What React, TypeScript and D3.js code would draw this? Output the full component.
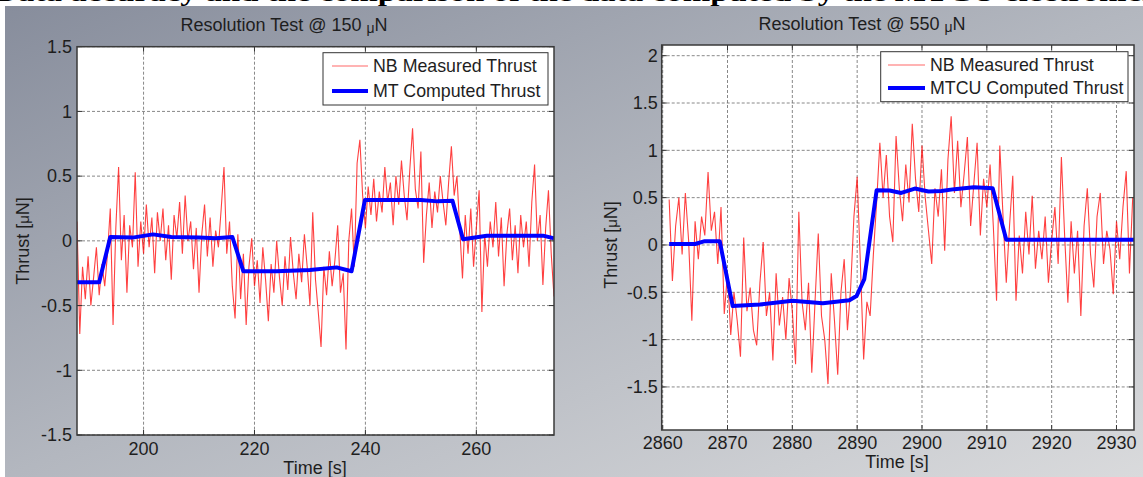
import * as d3 from "d3";

// NB measured thrust, sampled every 0.5 s
const sampleStep = 0.5;
const leftStart = 188;
const leftMeasured = [
  0.15, -0.72, -0.2, -0.45, -0.12, -0.5, -0.28, -0.05, -0.42, -0.18, -0.35,
  -0.1, 0.25, -0.65, 0.1, 0.57, -0.15, 0.2, -0.4, 0.12, -0.05, 0.53, -0.2, 0.15, -0.1, 0.28, -0.05,
  0.18, -0.25, 0.22, 0.0, 0.25, -0.15, 0.12, -0.3, 0.2, 0.02, 0.3, -0.1, 0.35, 0.0, 0.15, -0.22,
  0.1, -0.4, 0.05, 0.28, -0.12, 0.18, -0.2, 0.08, -0.05, 0.25, 0.57, -0.1, 0.15, -0.35, -0.6, 0.05,
  -0.45, -0.1, -0.65, -0.2, 0.02, -0.35, -0.15, -0.48, -0.05, -0.3, -0.62, -0.18, -0.4, 0.0, -0.28,
  -0.5, -0.12, -0.38, 0.03, -0.25, -0.45, -0.1, -0.32, 0.05, -0.2, -0.5, 0.22, -0.3, -0.55, -0.82,
  -0.2, -0.42, -0.08, -0.35, -0.15, 0.12, -0.4, -0.25, -0.84, 0.0, 0.25, -0.2,
  0.6, 0.78, 0.35, 0.1, 0.42, 0.2, 0.48, 0.15, 0.38, 0.22, 0.57, 0.3, 0.45, 0.12, 0.5, 0.28, 0.62,
  0.35, 0.16, 0.55, 0.87, 0.4, 0.25, 0.69, -0.17, 0.2, 0.45, 0.1, 0.38, 0.22, 0.5, 0.3, 0.12, 0.45,
  0.73, 0.35,
  0.5, 0.1, -0.29, 0.2, -0.1, 0.25, -0.2, 0.1, 0.39, -0.55, 0.05, -0.2, 0.15, -0.05, 0.3, -0.12,
  0.18, -0.35, 0.05, 0.25, -0.15, 0.12, -0.25, 0.2, -0.05, 0.15, -0.2, 0.3, 0.59, 0.0, 0.2, -0.34,
  0.1, 0.39, -0.1, -0.43,
];
const rightStart = 2861;
const rightMeasured = [
  0.48, -0.38, 0.2, 0.5, -0.1, 0.55, 0.05, -0.8, 0.25, -0.15, 0.3, 0.1, 0.77, 0.15, 0.35, -0.2, 0.4,
  -0.73, -0.3, -0.95, -0.5,
  -0.8, -1.18, 0.08, -0.7, -0.45, -0.9, -1.06, -0.4, 0.03, -0.75, -0.5, -1.22, -0.3, -0.85, -0.55,
  -1.0, -0.35, -0.7, -1.26, 0.35, -0.6, -0.9, -0.4, -1.35, -0.6, 0.12, -0.75, -1.0, -1.47, -0.3,
  -0.8, -1.37, -0.5, -0.15, -0.9, -0.45, 0.3, 0.72,
  -0.2, -1.21, -0.6, -0.75, -0.1, 0.45,
  1.08, 0.5, 0.95, 0.3, 0.03, 1.15, 0.6, 0.25, 0.85, 0.45, 1.28, 0.7, 0.35, 1.05, 0.5, 0.15, -0.2,
  0.6, 0.3, 0.8, -0.06, 0.9, 1.36, 0.55, 1.1, 0.4, 0.75, 1.14, 0.2, 0.65, 1.08, 0.1, 0.7, 0.4, 0.85,
  0.2,
  -0.59, 1.05, 0.3, -0.4,
  0.2, 0.73, -0.59, 0.1, -0.3, 0.35, -0.1, 0.52, -0.25, 0.15, -0.15, 0.3, -0.4, 0.05, 0.4, -0.2,
  0.93, 0.1, -0.61, 0.25, -0.3, 0.15, -0.75, 0.2, 0.6, -0.1, -0.45, 0.3, 0.55, -0.2, 0.15, -0.05,
  -0.52, 0.25, -0.15, 0.4, 0.78, -0.3, 0.5,
];

// MT / MTCU computed thrust
const leftComputedTime = [188, 192, 194, 198, 201.7, 205, 210, 213, 216, 218, 224, 230, 234.8, 237.5, 239.9, 245, 250, 253, 255.7, 257.6, 261.9, 266, 272, 274];
const leftComputed = [-0.32, -0.32, 0.03, 0.025, 0.05, 0.03, 0.025, 0.02, 0.03, -0.235, -0.235, -0.225, -0.205, -0.235, 0.315, 0.315, 0.315, 0.305, 0.31, 0.013, 0.04, 0.04, 0.04, 0.02];
const rightComputedTime = [2861, 2865, 2866.5, 2868.8, 2870.8, 2875, 2880, 2884.7, 2888.8, 2889.9, 2891.1, 2893, 2895, 2896.8, 2898.9, 2901, 2903, 2905, 2908, 2910.9, 2913, 2920, 2932.7];
const rightComputed = [0.01, 0.01, 0.04, 0.04, -0.645, -0.63, -0.59, -0.616, -0.585, -0.54, -0.36, 0.578, 0.575, 0.55, 0.596, 0.565, 0.57, 0.59, 0.61, 0.6, 0.055, 0.055, 0.055];

const leftXTicks = [200, 220, 240, 260];
const leftYTicks = [-1.5, -1, -0.5, 0, 0.5, 1, 1.5];
const rightXTicks = [2860, 2870, 2880, 2890, 2900, 2910, 2920, 2930];
const rightYTicks = [-1.5, -1, -0.5, 0, 0.5, 1, 1.5, 2];

const font = "'Liberation Sans', Arial, sans-serif";

function Panel(p: any) {
  const x = d3.scaleLinear().domain(p.xDomain).range([p.x0, p.x1]);
  const y = d3.scaleLinear().domain(p.yDomain).range([p.y1, p.y0]);
  const measured = p.measured.map((v: number, i: number) => [p.start + i * sampleStep, v]);
  const computed = p.computedTime.map((t: number, i: number) => [t, p.computed[i]]);
  const line = d3.line<any>().x((d) => x(d[0])).y((d) => y(d[1]));
  const clipId = "clip-" + p.id;
  const lg = p.legend;
  return (
    <g fontFamily={font} fill="#1e1e1e">
      <defs>
        <clipPath id={clipId}>
          <rect x={p.x0} y={p.y0} width={p.x1 - p.x0} height={p.y1 - p.y0} />
        </clipPath>
      </defs>
      <rect x={p.x0} y={p.y0} width={p.x1 - p.x0} height={p.y1 - p.y0} fill="#fff" />
      <g stroke="#6a6a6a" strokeWidth={0.8} strokeDasharray="3,2">
        {p.xTicks.map((t: number) => (
          <line key={"gx" + t} x1={x(t)} x2={x(t)} y1={p.y0} y2={p.y1} />
        ))}
        {p.yTicks.map((t: number) => (
          <line key={"gy" + t} x1={p.x0} x2={p.x1} y1={y(t)} y2={y(t)} />
        ))}
      </g>
      <g clipPath={`url(#${clipId})`} fill="none">
        <path d={line(measured) || ""} stroke="#ff0000" strokeOpacity={0.75} strokeWidth={1.1} />
        <path d={line(computed) || ""} stroke="#0000ff" strokeWidth={4} strokeLinejoin="round" />
      </g>
      <g stroke="#333" strokeWidth={1}>
        {p.xTicks.map((t: number) => (
          <g key={"tx" + t}>
            <line x1={x(t)} x2={x(t)} y1={p.y1} y2={p.y1 - 5} />
            <line x1={x(t)} x2={x(t)} y1={p.y0} y2={p.y0 + 5} />
          </g>
        ))}
        {p.yTicks.map((t: number) => (
          <g key={"ty" + t}>
            <line x1={p.x0} x2={p.x0 + 5} y1={y(t)} y2={y(t)} />
            <line x1={p.x1} x2={p.x1 - 5} y1={y(t)} y2={y(t)} />
          </g>
        ))}
      </g>
      <rect x={p.x0} y={p.y0} width={p.x1 - p.x0} height={p.y1 - p.y0} fill="none" stroke="#3a3a3a" strokeWidth={1.5} />
      <g fontSize={18}>
        {p.xTicks.map((t: number) => (
          <text key={"lx" + t} x={x(t)} y={p.xTickY} textAnchor="middle">{String(t)}</text>
        ))}
        {p.yTicks.map((t: number) => (
          <text key={"ly" + t} x={p.x0 - p.yTickGap} y={y(t)} dy="0.35em" textAnchor="end">{String(t)}</text>
        ))}
      </g>
      <text x={p.titleX} y={p.titleY} fontSize={18} textAnchor="middle">
        Resolution Test @ {p.level} <tspan fontSize={14} dy={2}>μ</tspan><tspan dy={-2}>N</tspan>
      </text>
      <text x={p.xLabelX} y={p.xLabelY} fontSize={18} textAnchor="middle">Time [s]</text>
      <text transform={`translate(${p.yLabelX},${p.yLabelY}) rotate(-90)`} fontSize={18} textAnchor="middle" dy="0.35em">
        Thrust [<tspan fontSize={15}>μ</tspan>N]
      </text>
      <g>
        <rect x={lg.x0} y={lg.y0} width={lg.x1 - lg.x0} height={lg.y1 - lg.y0} fill="#fff" stroke="#333" strokeWidth={1} />
        <line x1={lg.lineX0} x2={lg.lineX1} y1={lg.row1} y2={lg.row1} stroke="#ff0000" strokeOpacity={0.4} strokeWidth={1.5} />
        <line x1={lg.lineX0} x2={lg.lineX1} y1={lg.row2} y2={lg.row2} stroke="#0000ff" strokeWidth={4} />
        <text x={lg.textX} y={lg.row1} dy="0.35em" fontSize={17.8}>NB Measured Thrust</text>
        <text x={lg.textX} y={lg.row2} dy="0.35em" fontSize={17.8}>{p.computedName}</text>
      </g>
    </g>
  );
}

export default function App() {
  return (
    <svg width={1143} height={477} style={{ position: "absolute", left: 0, top: 0, display: "block" }}>
      <defs>
        <linearGradient id="bg" x1="0" y1="0" x2="1" y2="1">
          <stop offset="0" stopColor="#878d9c" />
          <stop offset="0.5" stopColor="#b3b7bf" />
          <stop offset="1" stopColor="#d9dadc" />
        </linearGradient>
      </defs>
      <rect x={0} y={0} width={1143} height={477} fill="#fff" />
      <text x={-6} y={1} fontFamily="'Liberation Serif', 'Times New Roman', serif" fontWeight="bold" fontSize={26}
        textLength={1160} lengthAdjust="spacingAndGlyphs" fill="#000">
        Data accuracy and the comparison of the data computed by the MTCU electronics
      </text>
      <rect x={5} y={6} width={1138} height={471} fill="url(#bg)" />
      <Panel
        id="l" x0={77} x1={554} y0={46.7} y1={435} xDomain={[188, 274]} yDomain={[-1.5, 1.5]}
        xTicks={leftXTicks} yTicks={leftYTicks} start={leftStart} measured={leftMeasured}
        computedTime={leftComputedTime} computed={leftComputed} xTickY={455} yTickGap={5}
        level="150" titleX={284} titleY={31} xLabelX={315} xLabelY={474} yLabelX={23} yLabelY={241}
        computedName="MT Computed Thrust"
        legend={{ x0: 323, x1: 548, y0: 52.7, y1: 105, lineX0: 332, lineX1: 368, textX: 373, row1: 66, row2: 91 }}
      />
      <Panel
        id="r" x0={661.7} x1={1134} y0={45} y1={430} xDomain={[2859.85, 2932.7]} yDomain={[-1.955, 2.113]}
        xTicks={rightXTicks} yTicks={rightYTicks} start={rightStart} measured={rightMeasured}
        computedTime={rightComputedTime} computed={rightComputed} xTickY={449} yTickGap={4}
        level="550" titleX={862} titleY={30} xLabelX={897} xLabelY={468} yLabelX={611} yLabelY={245}
        computedName="MTCU Computed Thrust"
        legend={{ x0: 880.7, x1: 1128, y0: 51.7, y1: 101.7, lineX0: 888, lineX1: 925, textX: 930, row1: 65, row2: 88 }}
      />
    </svg>
  );
}
